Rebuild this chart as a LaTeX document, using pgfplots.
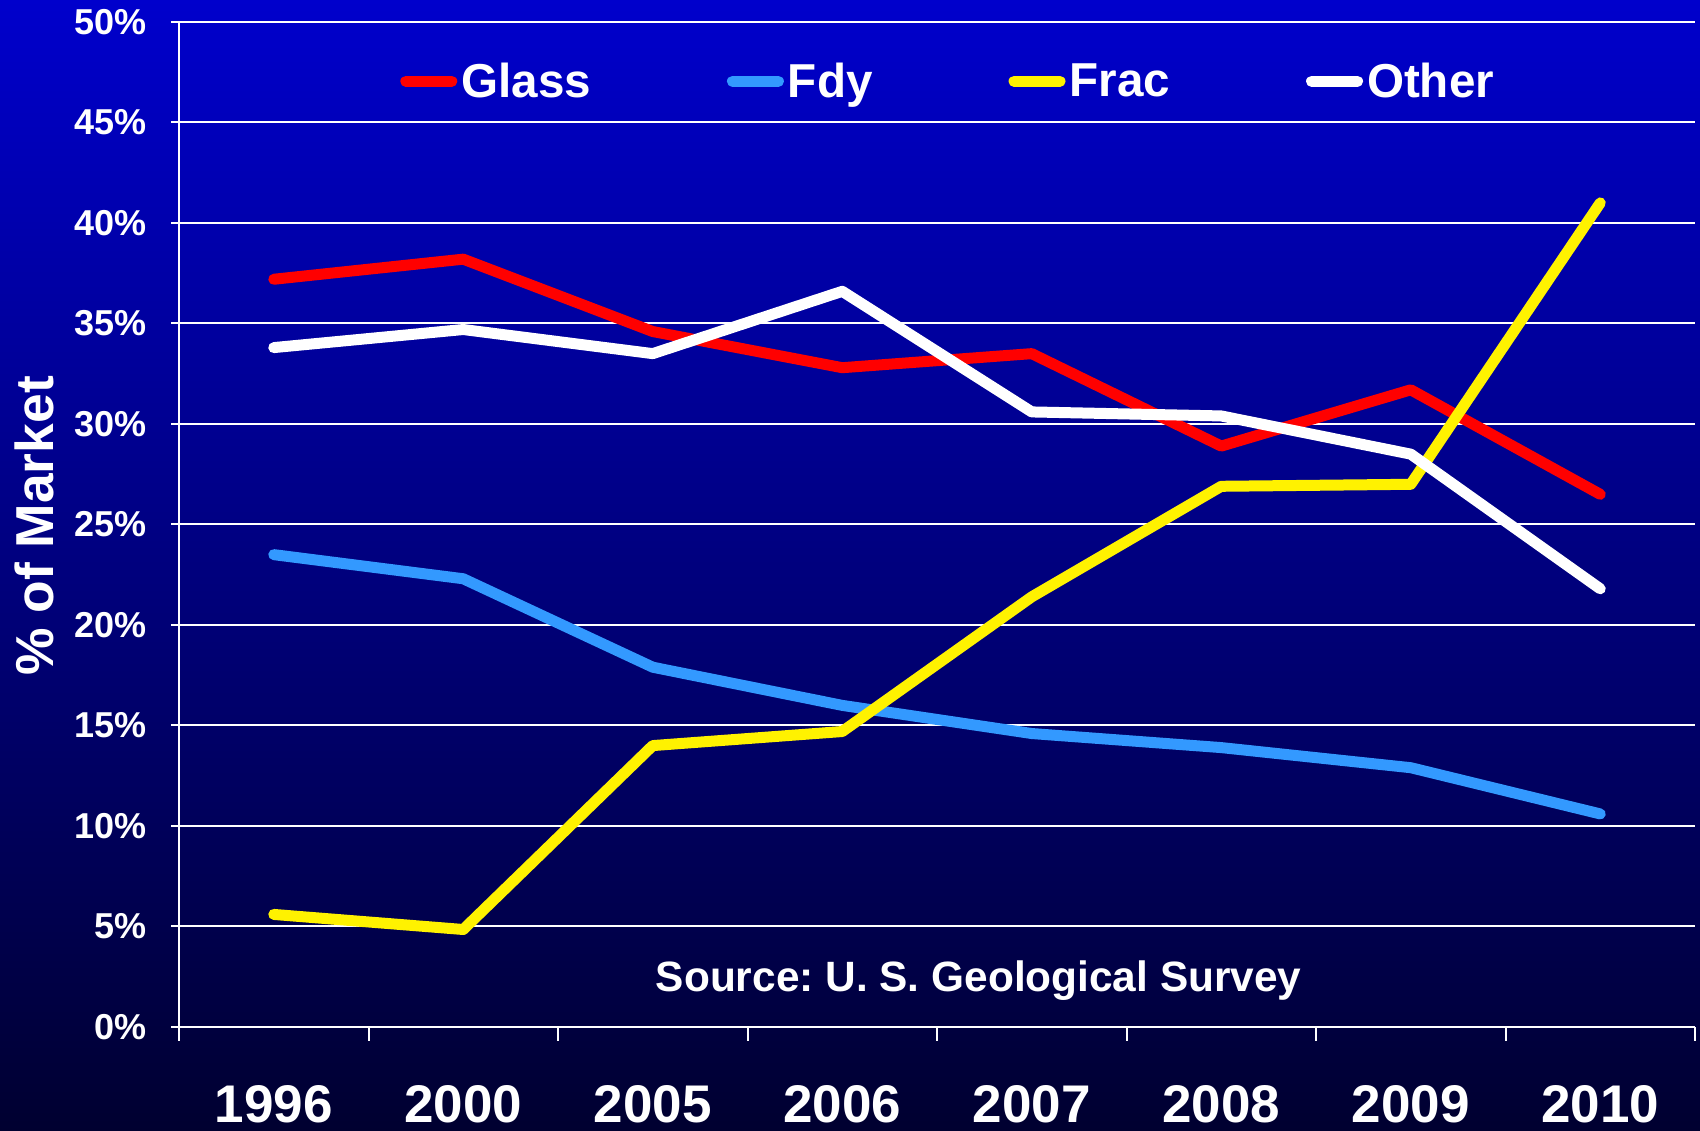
\documentclass[border=0pt]{standalone}
\usepackage{pgfplots}
\pgfplotsset{compat=1.18}
\usepackage{fontspec}
\setmainfont{Liberation Sans}
\definecolor{fdy}{RGB}{51,153,255}
\definecolor{bgtop}{RGB}{0,0,204}
\definecolor{bgbot}{RGB}{0,0,48}
\begin{document}
\frenchspacing
\begin{tikzpicture}[x=1bp,y=1bp]
\fill[top color=bgtop,bottom color=bgbot] (0,0) rectangle (850,565.5);
\useasboundingbox (0,0) rectangle (850,565.5);
\node[rotate=90, text=white, font=\fontsize{26.7bp}{27bp}\selectfont\bfseries] at (17bp,302.5bp) {\% of Market};
\begin{axis}[
  at={(89.5bp,52bp)}, anchor=south west,
  scale only axis, width=758bp, height=502.5bp,
  xmin=-0.5, xmax=7.5, ymin=0, ymax=50,
  axis x line*=bottom, axis y line*=left,
  axis line style={white, line width=1bp},
  tick align=outside,
  xtick={0,...,7},
  xticklabels={1996,2000,2005,2006,2007,2008,2009,2010},
  major x tick style={draw=none},
  minor xtick={-0.5,0.5,...,7.5},
  minor x tick style={white, line width=1bp},
  minor tick length=7bp,
  ytick={0,5,...,50},
  yticklabels={0\%,5\%,10\%,15\%,20\%,25\%,30\%,35\%,40\%,45\%,50\%},
  major tick length=4bp,
  ytick style={white, line width=1bp},
  ymajorgrids,
  major grid style={white, line width=1bp},
  yticklabel style={text=white, font=\fontsize{18bp}{18bp}\selectfont\bfseries, anchor=east, inner sep=0pt, xshift=-12bp},
  xticklabel style={text=white, font=\fontsize{26.5bp}{26bp}\selectfont\bfseries, anchor=base, inner sep=0pt, yshift=-44bp},
  legend columns=4,
  legend style={at={(0.508,0.941)}, anchor=center, draw=none, fill=none, text=white,
    font=\fontsize{23.8bp}{24bp}\selectfont\bfseries,
    /tikz/every even column/.append style={column sep=66bp},
    inner xsep=0pt, inner ysep=0pt},
  legend image code/.code={\draw[#1, line width=5.5bp, line cap=round] (2.5bp,0bp) -- (25.5bp,0bp);},
  every axis plot/.append style={line width=5.5bp, line cap=round, line join=round},
  clip=false,
]
\addplot[red] coordinates {(0,37.2) (1,38.2) (2,34.6) (3,32.8) (4,33.5) (5,28.9) (6,31.7) (7,26.5)};
\addlegendentry{Glass}
\addplot[fdy] coordinates {(0,23.5) (1,22.3) (2,17.9) (3,16.0) (4,14.6) (5,13.9) (6,12.9) (7,10.6)};
\addlegendentry{Fdy}
\addplot[yellow] coordinates {(0,5.6) (1,4.85) (2,14.0) (3,14.7) (4,21.4) (5,26.9) (6,27.0) (7,41.0)};
\addlegendentry{Frac}
\addplot[white] coordinates {(0,33.8) (1,34.7) (2,33.5) (3,36.6) (4,30.6) (5,30.4) (6,28.5) (7,21.8)};
\addlegendentry{Other}
\node[text=white, font=\fontsize{21.2bp}{22bp}\selectfont\bfseries] at (axis cs:3.72,2.3) {Source: U. S. Geological Survey};
\end{axis}
\end{tikzpicture}
\end{document}
